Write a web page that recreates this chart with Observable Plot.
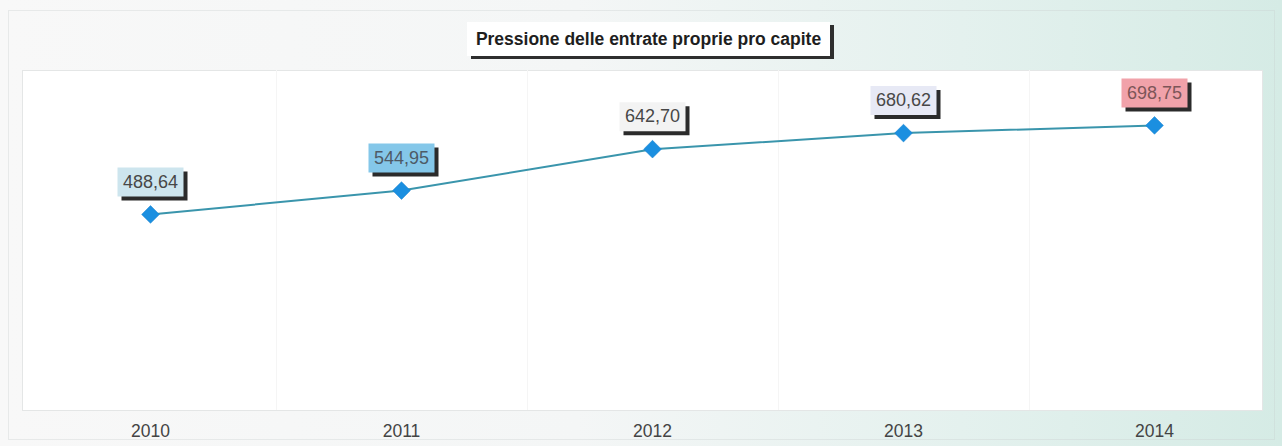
<!DOCTYPE html>
<html>
<head>
<meta charset="utf-8">
<script src="https://cdn.jsdelivr.net/npm/d3@7"></script>
<script src="https://cdn.jsdelivr.net/npm/@observablehq/plot@0.6"></script>
<style>
  html, body { margin: 0; padding: 0; }
  body {
    width: 1282px; height: 446px; overflow: hidden;
    background: linear-gradient(to right, #f8f8f8 0%, #f4f6f6 45%, #e4f1ee 75%, #d5ebe5 100%);
    font-family: "Liberation Sans", Arial, sans-serif;
  }
  #wrap { position: relative; width: 1282px; height: 446px; }
  #outer {
    position: absolute; left: 8px; top: 10px; width: 1267px; height: 430px;
    border: 1px solid rgba(200,205,205,0.35); box-sizing: border-box;
  }
  #title {
    position: absolute; left: 467px; top: 22px; width: 363px; height: 34px;
    background: #ffffff; box-shadow: 4px 3px 0 #2e2e2e;
    font: bold 17.5px "Liberation Sans", Arial, sans-serif; color: #1e1e1e;
    line-height: 34px; text-align: center; white-space: nowrap;
  }
  #chart { position: absolute; left: 0; top: 0; }
</style>
</head>
<body>
<div id="wrap">
  <div id="outer"></div>
  <div id="chart"></div>
  <div id="title">Pressione delle entrate proprie pro capite</div>
</div>
<script>
const years = ["2010", "2011", "2012", "2013", "2014"];
const values = [488.64, 544.95, 642.70, 680.62, 698.75];
const labelColors = ["#cde5ee", "#84c7e9", "#f3f3f3", "#e7e9f5", "#f1a2aa"];
const labelTextColors = ["#474747", "#4e5a66", "#474747", "#474747", "#7d5558"];

const data = years.map((y, i) => ({
  year: y,
  value: values[i],
  bg: labelColors[i],
  fg: labelTextColors[i],
  label: values[i].toFixed(2).replace(".", ",")
}));

const boxW = 66, boxH = 29;
const boxSymbol = {
  draw(ctx) { ctx.rect(-boxW / 2, -boxH / 2, boxW, boxH); }
};
const mids = years.slice(0, -1);

const chart = Plot.plot({
  width: 1282,
  height: 446,
  marginLeft: 22,
  marginRight: 20,
  marginTop: 70,
  marginBottom: 36,
  style: { background: "transparent", fontFamily: "'Liberation Sans', Arial, sans-serif" },
  x: { type: "point", domain: years, range: [148, 1155], padding: 0, label: null },
  y: { domain: [0, 800], range: [421, 82], axis: null },
  color: { type: "identity" },
  marks: [
    Plot.frame({ fill: "#ffffff", stroke: "#e4e6e6" }),
    Plot.ruleX(mids, { x: d => d, dx: 126, stroke: "#f5f5f5", strokeWidth: 1 }),
    Plot.axisX({ tickSize: 0, tickPadding: 14, fontSize: 17.5, color: "#444444", fill: "#444444" }),
    Plot.line(data, { x: "year", y: "value", stroke: "#3a95ac", strokeWidth: 2 }),
    Plot.dot(data, { x: "year", y: "value", symbol: "diamond2", r: 8, fill: "#1b8fe0", stroke: "#1680cc", strokeWidth: 0.5 }),
    Plot.dot(data, { x: "year", y: "value", symbol: boxSymbol, r: 1, fill: "#2b2b2b", dx: 4, dy: -28.5 }),
    Plot.dot(data, { x: "year", y: "value", symbol: boxSymbol, r: 1, fill: "bg", dy: -32.5 }),
    Plot.text(data, { x: "year", y: "value", text: "label", fill: "fg", fontSize: 18, dy: -32.5, textAnchor: "middle" })
  ]
});
document.getElementById("chart").appendChild(chart);
</script>
</body>
</html>
